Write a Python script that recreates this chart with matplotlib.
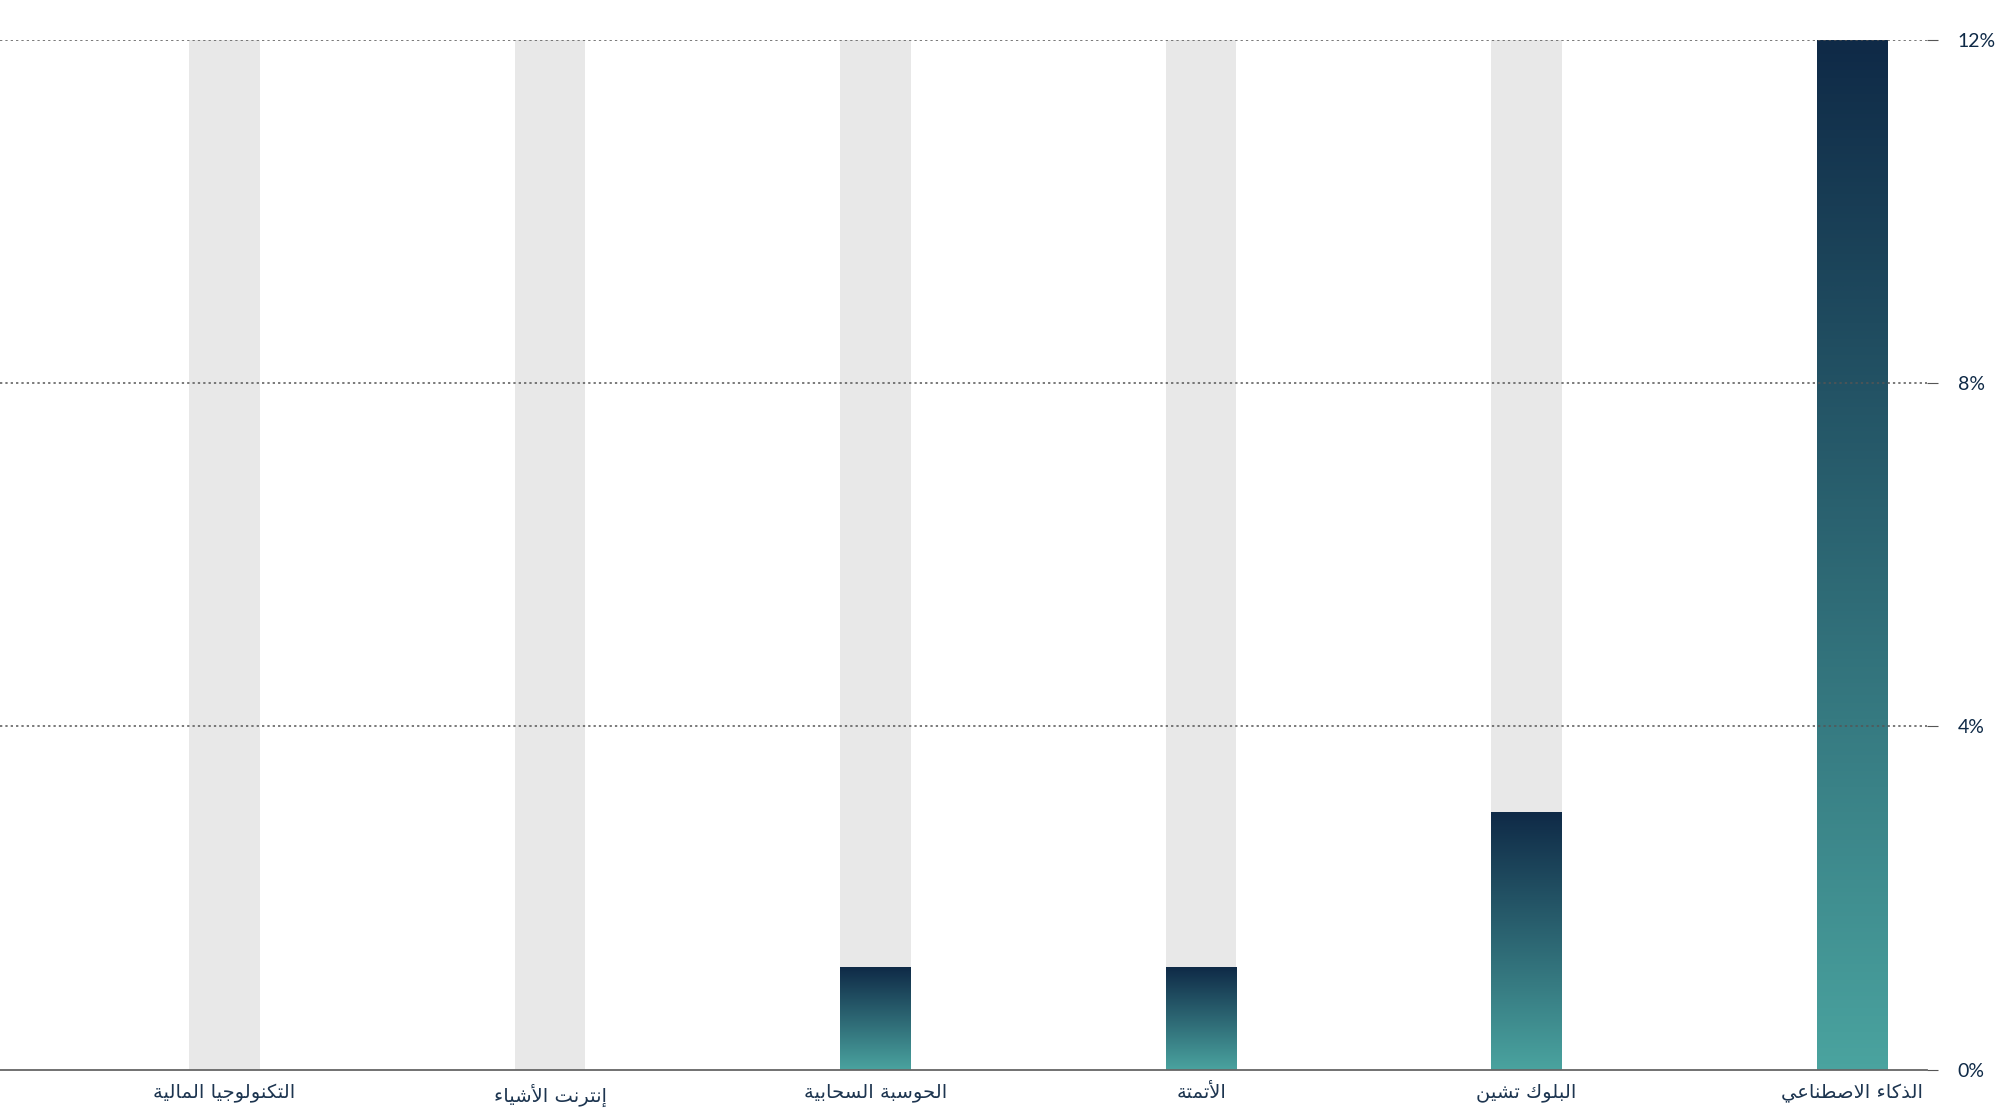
import matplotlib
matplotlib.use("Agg")
import matplotlib.pyplot as plt
import numpy as np
from matplotlib.colors import LinearSegmentedColormap

categories = ["التكنولوجيا المالية", "إنترنت الأشياء", "الحوسبة السحابية", "الأتمتة", "البلوك تشين", "الذكاء الاصطناعي"]
values = [0, 0, 1.2, 1.2, 3.0, 12.0]
max_value = 12
yticks = [0, 4, 8, 12]
ytick_labels = ["0%", "4%", "8%", "12%"]

# --- minimal Arabic shaping to presentation forms ---
F = {
 'ء': (0xFE80,), 'آ': (0xFE81, 0xFE82), 'أ': (0xFE83, 0xFE84), 'إ': (0xFE87, 0xFE88),
 'ا': (0xFE8D, 0xFE8E), 'ب': (0xFE8F,), 'ة': (0xFE93, 0xFE94), 'ت': (0xFE95,), 'ث': (0xFE99,),
 'ج': (0xFE9D,), 'ح': (0xFEA1,), 'خ': (0xFEA5,), 'د': (0xFEA9, 0xFEAA), 'ذ': (0xFEAB, 0xFEAC),
 'ر': (0xFEAD, 0xFEAE), 'ز': (0xFEAF, 0xFEB0), 'س': (0xFEB1,), 'ش': (0xFEB5,), 'ص': (0xFEB9,),
 'ض': (0xFEBD,), 'ط': (0xFEC1,), 'ظ': (0xFEC5,), 'ع': (0xFEC9,), 'غ': (0xFECD,), 'ف': (0xFED1,),
 'ق': (0xFED5,), 'ك': (0xFED9,), 'ل': (0xFEDD,), 'م': (0xFEE1,), 'ن': (0xFEE5,), 'ه': (0xFEE9,),
 'و': (0xFEED, 0xFEEE), 'ى': (0xFEEF, 0xFEF0), 'ي': (0xFEF1,),
}
LA = {'آ': 0xFEF5, 'أ': 0xFEF7, 'إ': 0xFEF9, 'ا': 0xFEFB}

def forms(c):
    f = F[c]
    if len(f) == 1 and c != 'ء':
        b = f[0]; return (b, b+1, b+2, b+3)
    return f

def dual(c):
    return c in F and len(forms(c)) == 4

def shape(s):
    # merge lam-alef
    units = []
    i = 0
    while i < len(s):
        if s[i] == 'ل' and i+1 < len(s) and s[i+1] in LA:
            units.append(('LA', s[i+1])); i += 2
        else:
            units.append(('C', s[i])); i += 1
    out = []
    for k, (t, c) in enumerate(units):
        prev = units[k-1] if k > 0 else None
        nxt = units[k+1] if k+1 < len(units) else None
        jp = prev is not None and prev[0] == 'C' and dual(prev[1])
        if t == 'LA':
            out.append(chr(LA[c] + (1 if jp else 0)))
            continue
        if c not in F:
            out.append(c); continue
        fm = forms(c)
        jn = nxt is not None and (nxt[0] == 'LA' or nxt[1] in F) and len(fm) == 4
        if len(fm) == 1:
            out.append(chr(fm[0]))
        elif len(fm) == 2:
            out.append(chr(fm[1] if jp else fm[0]))
        else:
            if jp and jn: out.append(chr(fm[3]))
            elif jp: out.append(chr(fm[1]))
            elif jn: out.append(chr(fm[2]))
            else: out.append(chr(fm[0]))
    return ''.join(out)[::-1]

fig = plt.figure(figsize=(20.01, 11.13), dpi=100)
ax = fig.add_axes([0.0, 0.039, 0.963, 0.925])

x = np.arange(len(categories))
w = 0.216
ax.bar(x, [max_value]*len(x), width=w, color="#e8e8e8", zorder=1)

cmap = LinearSegmentedColormap.from_list("g", ["#4aa39f", "#0f2a47"])
grad = np.linspace(0, 1, 256).reshape(-1, 1)
for xi, v in zip(x, values):
    if v > 0:
        ax.imshow(grad, extent=(xi - w/2, xi + w/2, 0, v), origin="lower",
                  cmap=cmap, aspect="auto", zorder=2, interpolation="bicubic")

ax.set_xlim(-0.69, len(x) - 1 + 0.23)
ax.set_ylim(0, max_value)
for t in yticks[1:]:
    ax.axhline(t, color="#555555", linestyle=(0, (1.5, 2)), linewidth=1.1, zorder=3)

for s in ["top", "left", "right"]:
    ax.spines[s].set_visible(False)
ax.spines["bottom"].set_color("#666666")
ax.spines["bottom"].set_linewidth(1.3)

ax.yaxis.tick_right()
ax.set_yticks(yticks)
ax.set_yticklabels(ytick_labels, fontsize=14, color="#0f2a47", family="Lato")
ax.tick_params(axis="y", length=8, color="#555555", pad=14)
ax.set_xticks(x)
ax.set_xticklabels([shape(c) for c in categories], fontsize=14, color="#1d3550", family="DejaVu Sans")
ax.tick_params(axis="x", length=0, pad=10)

fig.savefig("out.png", dpi=100, facecolor="white")
